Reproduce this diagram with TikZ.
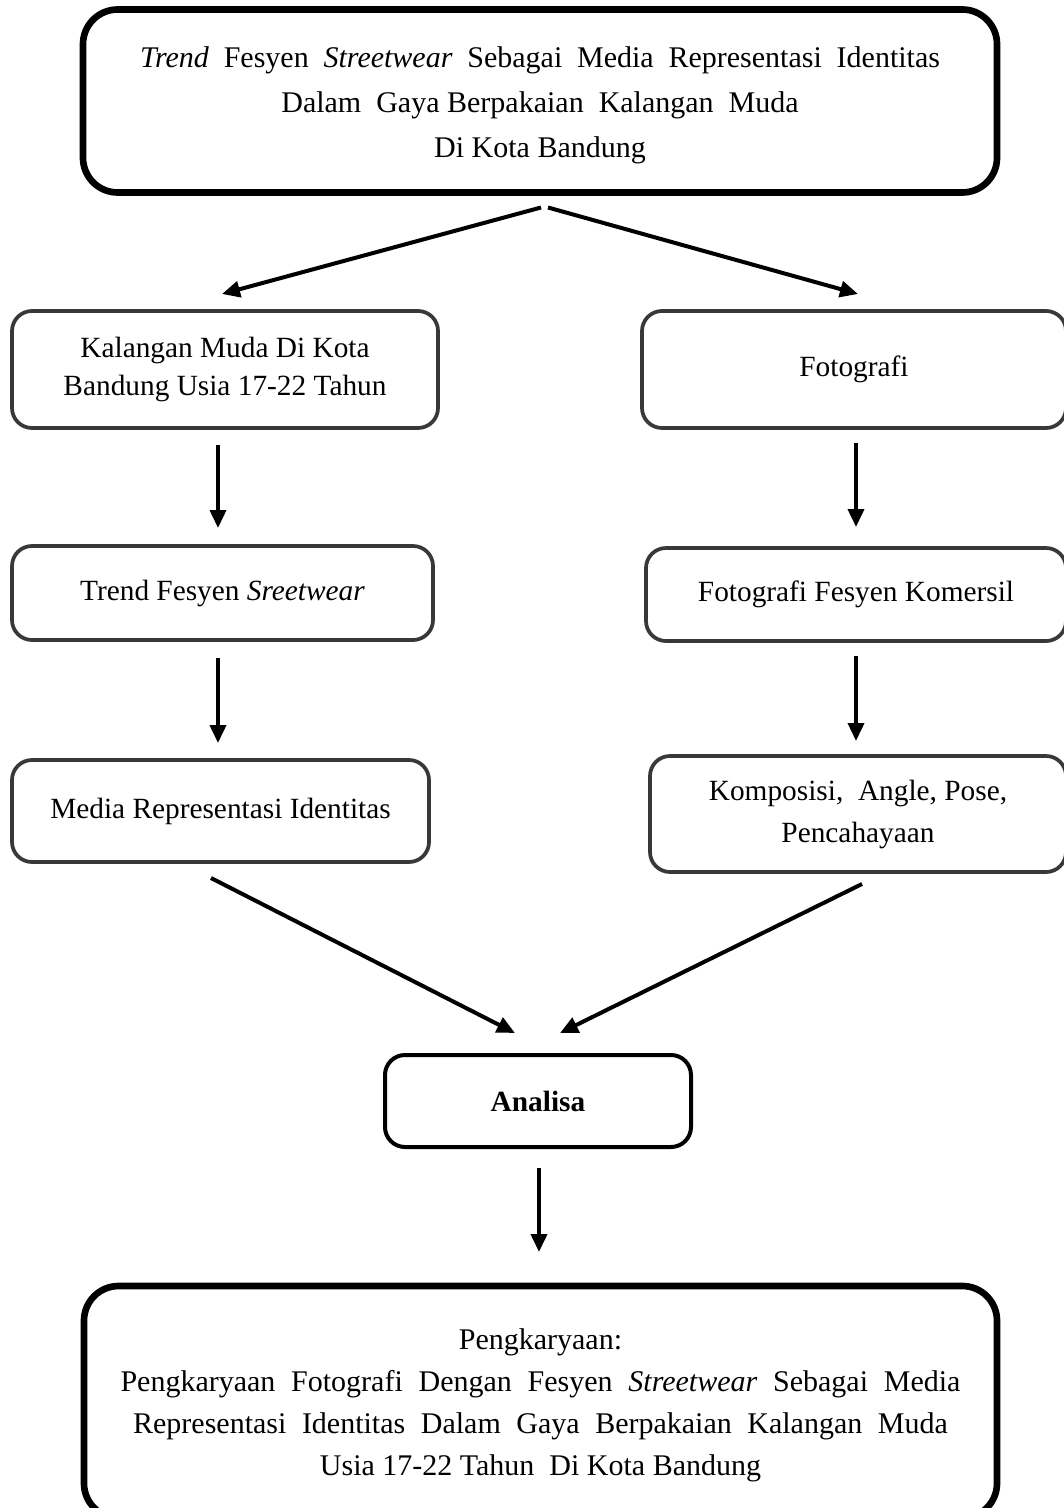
\documentclass[tikz,border=0pt]{standalone}
\usepackage{fontspec}
\setmainfont{Liberation Serif}
\usetikzlibrary{arrows.meta}

\begin{document}
\begin{tikzpicture}[x=0.75pt, y=-0.75pt]

% --- Define reusable styles and key values ---
\tikzset{
    txt/.style={font=\fontsize{22}{29}\selectfont, align=center, inner sep=0pt, outer sep=0pt},
    thinbox/.style={txt, draw=black!78, line width=2.8pt, rounded corners=15pt},
    thickbox/.style={txt, draw=black, line width=5pt, rounded corners=26pt},
    flow/.style={line width=2.8pt, -{Triangle[length=13.5pt, width=12pt]}}
}
\def\u{0.75pt} % one pixel of the page

\useasboundingbox (0,0) rectangle (1063,1508);

% 1. Title box at the top
\node[thickbox, minimum width=914*\u, minimum height=183*\u, font=\fontsize{22.5}{33.5}\selectfont] (title) at (540,101) {%
    \rule{0pt}{22pt}\makebox[600pt][s]{\textit{Trend} Fesyen \textit{Streetwear} Sebagai Media Representasi Identitas}\\
    Dalam\ \ Gaya Berpakaian\ \ Kalangan\ \ Muda\\
    Di Kota Bandung};

% 2. Left column
\node[thinbox, minimum width=426*\u, minimum height=117*\u] (youth) at (225,369.5) {Kalangan Muda Di Kota\\ Bandung Usia 17-22 Tahun};
\node[thinbox, minimum width=421*\u, minimum height=94*\u] (trend) at (222.5,593) {Trend Fesyen \textit{Sreetwear}};
\node[thinbox, minimum width=417*\u, minimum height=102*\u] (media) at (220.5,811) {Media Representasi Identitas};

% 3. Right column (cut by the page edge)
\node[thinbox, minimum width=424*\u, minimum height=117*\u] (photo) at (854,369.5) {Fotografi};
\node[thinbox, minimum width=420*\u, minimum height=93*\u] (commercial) at (856,594.5) {Fotografi Fesyen Komersil};
\node[thinbox, minimum width=416*\u, minimum height=116*\u, font=\fontsize{22}{31.5}\selectfont] (elements) at (858,814) {Komposisi,\ \ Angle, Pose,\\ Pencahayaan};

% 4. Analysis box
\node[txt, draw=black, line width=3pt, rounded corners=15pt, minimum width=306*\u, minimum height=92*\u] (analysis) at (538,1101) {\textbf{Analisa}};

% 5. Output box at the bottom, its lower edge cut by the page
\node[thickbox, minimum width=913*\u, minimum height=232*\u, font=\fontsize{22.5}{31.5}\selectfont] (output) at (540.5,1402) {%
    \rule{0pt}{20pt}Pengkaryaan:\\
    \makebox[630pt][s]{Pengkaryaan Fotografi Dengan Fesyen \textit{Streetwear} Sebagai Media}\\
    \makebox[611pt][s]{Representasi Identitas Dalam Gaya Berpakaian Kalangan Muda}\\
    Usia 17-22 Tahun\ \ Di Kota Bandung};

% 6. Arrows from the title
\draw[flow, line width=3pt] ([shift={(1,15)}]title.south) -- ([shift={(-3,-17)}]youth.north);
\draw[flow, line width=3pt] ([shift={(8,15)}]title.south) -- ([shift={(4,-17)}]photo.north);

% 7. Arrows down each column
\draw[flow] ([shift={(-7,17)}]youth.south) -- ([shift={(-4.5,-18)}]trend.north);
\draw[flow] ([shift={(-4.5,18)}]trend.south) -- ([shift={(-2.5,-17)}]media.north);
\draw[flow] ([shift={(2,15)}]photo.south) -- ([shift={(0,-21)}]commercial.north);
\draw[flow] ([shift={(0,15)}]commercial.south) -- ([shift={(-2,-15)}]elements.north);

% 8. Arrows into the analysis
\draw[flow, line width=3pt] ([shift={(-9.5,16)}]media.south) -- ([shift={(-23,-22)}]analysis.north);
\draw[flow, line width=3pt] ([shift={(4,12)}]elements.south) -- ([shift={(22,-22)}]analysis.north);

% 9. Arrow to the output
\draw[flow] ([shift={(1,21)}]analysis.south) -- ([shift={(-1.5,-34)}]output.north);

\end{tikzpicture}
\end{document}
